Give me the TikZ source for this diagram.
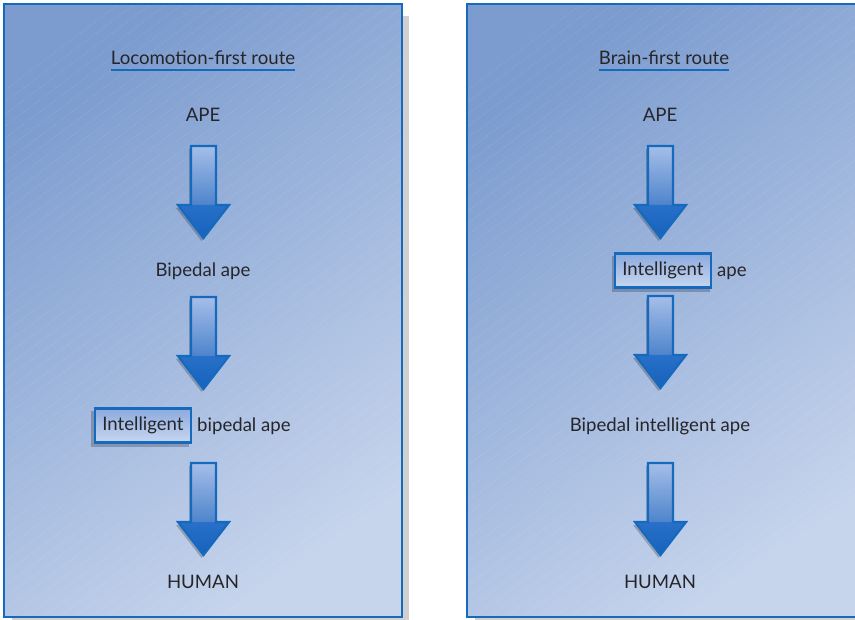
\documentclass[tikz,border=0pt]{standalone}
\usepackage{fontspec}
\setmainfont{Lato}
\definecolor{panelA}{RGB}{124,156,207}
\definecolor{panelB}{RGB}{198,212,236}
\definecolor{rimblue}{RGB}{22,106,190}
\definecolor{dropgray}{RGB}{208,208,208}
\definecolor{inkgray}{RGB}{38,38,42}
\definecolor{shaftA}{RGB}{165,190,232}
\definecolor{shaftB}{RGB}{78,132,204}
\definecolor{headA}{RGB}{40,112,200}
\definecolor{headB}{RGB}{22,98,188}
\definecolor{boxA}{RGB}{140,170,222}
\definecolor{boxB}{RGB}{200,215,240}
\tikzset{
  label/.style={font=\fontsize{18.6}{22}\selectfont, text=inkgray, inner sep=0pt},
  panelrim/.style={draw=rimblue, line width=2.8pt},
  hatch/.style={white, opacity=0.12, line width=0.5pt, dash pattern=on 3pt off 1.5pt},
  tagbox/.style={label, draw=rimblue, line width=2.2pt, top color=boxA, bottom color=boxB,
    minimum width=96pt, minimum height=34pt},
  tagshadow/.style={fill=black, opacity=0.22},
  uline/.style={rimblue, line width=2pt},
  fatarrow/.pic={
    \fill[black, opacity=0.22] (-14.5,3) -- (10.5,3) -- (10.5,62) -- (23.5,62) -- (-2,95)
      -- (-27.5,62) -- (-14.5,62) -- cycle;
    \shade[top color=shaftA, bottom color=shaftB] (-12.5,0) rectangle (12.5,59);
    \shade[top color=headA, bottom color=headB] (-25.5,59) -- (25.5,59) -- (0,92) -- cycle;
    \draw[rimblue, line width=2.2pt, line join=miter] (-12.5,0) -- (12.5,0) -- (12.5,59)
      -- (25.5,59) -- (0,92) -- (-25.5,59) -- (-12.5,59) -- cycle;
  }
}
\begin{document}
\begin{tikzpicture}[x=1pt, y=-1pt]
\useasboundingbox (0,0) rectangle (855,620);
\clip (0,0) rectangle (855,620);

% two panels with drop shadow, gradient and faint diagonal hatching
\foreach \px/\pw in {4/398, 467/397} {
  \fill[dropgray] (\px+8,16) rectangle (\px+\pw+7,629);
  \shade[top color=panelA, bottom color=panelB, shading angle=35] (\px,4) rectangle (\px+\pw,617);
  \begin{scope}
    \clip (\px,4) rectangle (\px+\pw,617);
    \foreach \s in {-700,-684,...,500}
      \draw[hatch] (\px+\s,620) -- ++(820,-620);
  \end{scope}
  \draw[panelrim] (\px,4) rectangle (\px+\pw,617);
}

% ---------- locomotion-first route ----------
\node[label, anchor=base] (titleL) at (203,65) {Locomotion-first route};
\draw[uline] ([yshift=-5pt]titleL.base west) -- ([yshift=-5pt]titleL.base east);
\node[label, anchor=base] (apeL) at (203,122) {APE};
\pic at (203.5,146) {fatarrow};
\node[label, anchor=base] (bipL) at (203,277) {Bipedal ape};
\pic at (203.5,297) {fatarrow};
\fill[tagshadow] (91,411) rectangle (189,447);
\node[tagbox] (intL) at (143,425.5) {Intelligent};
\node[label, anchor=base west] (intbipL) at (197,432) {bipedal ape};
\pic at (203.5,463) {fatarrow};
\node[label, anchor=base] (humL) at (203,588) {HUMAN};

% ---------- brain-first route ----------
\node[label, anchor=base] (titleR) at (664,65) {Brain-first route};
\draw[uline] ([yshift=-5pt]titleR.base west) -- ([yshift=-5pt]titleR.base east);
\node[label, anchor=base] (apeR) at (660,122) {APE};
\pic at (660.5,146) {fatarrow};
\fill[tagshadow] (612,256) rectangle (710,292);
\node[tagbox] (intR) at (663,270.5) {Intelligent};
\node[label, anchor=base west] (intapeR) at (717,277) {ape};
\pic at (660.5,296) {fatarrow};
\node[label, anchor=base] (bipintR) at (660,432) {Bipedal intelligent ape};
\pic at (660.5,463) {fatarrow};
\node[label, anchor=base] (humR) at (660,588) {HUMAN};
\end{tikzpicture}
\end{document}
